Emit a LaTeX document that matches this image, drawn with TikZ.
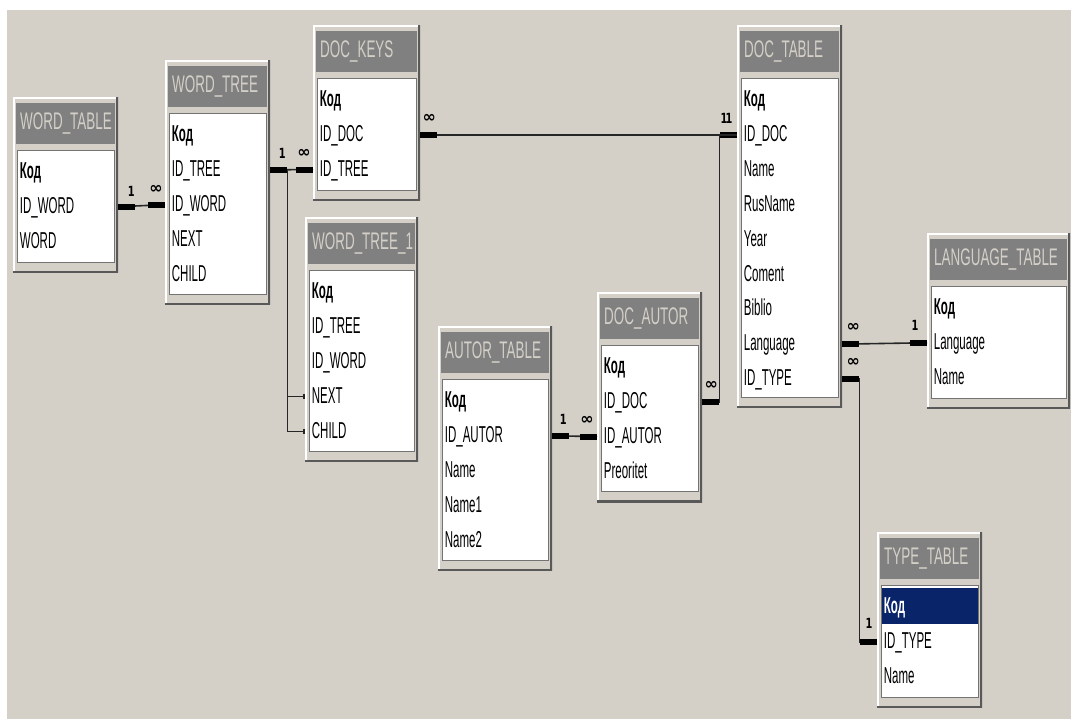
\documentclass[tikz,border=0pt]{standalone}
\usepackage{fontspec}
\usepackage{tikz}
\usetikzlibrary{arrows.meta, positioning, calc}
\newfontfamily\fldfont[FakeStretch=0.5]{Liberation Sans}
\newfontfamily\ttlfont[FakeStretch=0.56]{Liberation Sans}
\newfontfamily\symfont{DejaVu Sans}
\newfontfamily\cardfont[FakeStretch=0.7]{DejaVu Sans}
\definecolor{panel}{HTML}{D4D0C8}
\definecolor{ttlbar}{HTML}{808080}
\definecolor{selrow}{HTML}{0A246A}

\begin{document}
\begin{tikzpicture}[
      x=1pt, y=-1pt,
      tbl/.style = {
        rectangle, anchor=north west, fill=panel, inner sep=0pt,
        path picture={
          \draw[white, line width=3pt]
            (path picture bounding box.south west) |- (path picture bounding box.north east);
          \draw[black!65, line width=4pt]
            (path picture bounding box.south west) -| (path picture bounding box.north east);
        }
      },
      ttl/.style = {
        rectangle, fill=ttlbar, text=panel,
        minimum height=41pt, inner xsep=4pt, inner ysep=0pt, align=left,
        font=\ttlfont\fontsize{24}{24}\selectfont
      },
      body/.style = {rectangle, fill=white, draw=black!55, line width=1pt, inner sep=0pt},
      fld/.style = {
        inner sep=0pt, minimum height=34.5pt, text height=16.5pt, text depth=3pt,
        font=\fldfont\fontsize{23}{23}\selectfont
      },
      rel/.style = {line width=1.6pt, black!85},
      bar/.style = {line width=6pt, black},
      card/.style = {font=\cardfont\bfseries\fontsize{14}{14}\selectfont, inner sep=0pt},
      inf/.style = {font=\symfont\bfseries\fontsize{16}{16}\selectfont, inner sep=0pt},
    ]
    \useasboundingbox (0,0) rectangle (1071,719);
    \fill[white] (0,0) rectangle (1071,719);
    \fill[panel] (7,10) rectangle (1071,719);

    % WORD_TABLE
    \node[tbl, minimum width=105pt, minimum height=175.5pt] (wtab) at (13,97) {};
    \node[ttl, text width=91pt, below=6pt of wtab.north] (wtab-t) {WORD\_TABLE};
    \node[body, minimum width=97pt, minimum height=111.5pt, below=6pt of wtab-t] (wtab-b) {};
    \node[fld, anchor=north west] (wtab-kod) at ([shift={(3,4)}]wtab-b.north west) {\bfseries Код};
    \node[fld, below right=0pt and 0pt of wtab-kod.south west] (wtab-idword) {ID\_WORD};
    \node[fld, below right=0pt and 0pt of wtab-idword.south west] (wtab-word) {WORD};

    % WORD_TREE
    \node[tbl, minimum width=105pt, minimum height=244.5pt] (wtree) at (165,60) {};
    \node[ttl, text width=91pt, below=6pt of wtree.north] (wtree-t) {WORD\_TREE};
    \node[body, minimum width=97pt, minimum height=180.5pt, below=6pt of wtree-t] (wtree-b) {};
    \node[fld, anchor=north west] (wtree-kod) at ([shift={(3,4)}]wtree-b.north west) {\bfseries Код};
    \node[fld, below right=0pt and 0pt of wtree-kod.south west] (wtree-idtree) {ID\_TREE};
    \node[fld, below right=0pt and 0pt of wtree-idtree.south west] (wtree-idword) {ID\_WORD};
    \node[fld, below right=0pt and 0pt of wtree-idword.south west] (wtree-next) {NEXT};
    \node[fld, below right=0pt and 0pt of wtree-next.south west] (wtree-child) {CHILD};

    % DOC_KEYS
    \node[tbl, minimum width=107pt, minimum height=175.5pt] (dkeys) at (313,25) {};
    \node[ttl, text width=93pt, below=6pt of dkeys.north] (dkeys-t) {DOC\_KEYS};
    \node[body, minimum width=99pt, minimum height=111.5pt, below=6pt of dkeys-t] (dkeys-b) {};
    \node[fld, anchor=north west] (dkeys-kod) at ([shift={(3,4)}]dkeys-b.north west) {\bfseries Код};
    \node[fld, below right=0pt and 0pt of dkeys-kod.south west] (dkeys-iddoc) {ID\_DOC};
    \node[fld, below right=0pt and 0pt of dkeys-iddoc.south west] (dkeys-idtree) {ID\_TREE};

    % WORD_TREE_1
    \node[tbl, minimum width=113pt, minimum height=244.5pt] (wtree1) at (305,217) {};
    \node[ttl, text width=99pt, below=6pt of wtree1.north] (wt1-t) {WORD\_TREE\_1};
    \node[body, minimum width=105pt, minimum height=180.5pt, below=6pt of wt1-t] (wt1-b) {};
    \node[fld, anchor=north west] (wt1-kod) at ([shift={(3,4)}]wt1-b.north west) {\bfseries Код};
    \node[fld, below right=0pt and 0pt of wt1-kod.south west] (wt1-idtree) {ID\_TREE};
    \node[fld, below right=0pt and 0pt of wt1-idtree.south west] (wt1-idword) {ID\_WORD};
    \node[fld, below right=0pt and 0pt of wt1-idword.south west] (wt1-next) {NEXT};
    \node[fld, below right=0pt and 0pt of wt1-next.south west] (wt1-child) {CHILD};

    % AUTOR_TABLE
    \node[tbl, minimum width=114pt, minimum height=244.5pt] (autor) at (438,326) {};
    \node[ttl, text width=100pt, below=6pt of autor.north] (autor-t) {AUTOR\_TABLE};
    \node[body, minimum width=106pt, minimum height=180.5pt, below=6pt of autor-t] (autor-b) {};
    \node[fld, anchor=north west] (autor-kod) at ([shift={(3,4)}]autor-b.north west) {\bfseries Код};
    \node[fld, below right=0pt and 0pt of autor-kod.south west] (autor-idautor) {ID\_AUTOR};
    \node[fld, below right=0pt and 0pt of autor-idautor.south west] (autor-name) {Name};
    \node[fld, below right=0pt and 0pt of autor-name.south west] (autor-name1) {Name1};
    \node[fld, below right=0pt and 0pt of autor-name1.south west] (autor-name2) {Name2};

    % DOC_AUTOR
    \node[tbl, minimum width=105pt, minimum height=210pt] (dautor) at (597,292) {};
    \node[ttl, text width=91pt, below=6pt of dautor.north] (da-t) {DOC\_AUTOR};
    \node[body, minimum width=97pt, minimum height=146pt, below=6pt of da-t] (da-b) {};
    \node[fld, anchor=north west] (da-kod) at ([shift={(3,4)}]da-b.north west) {\bfseries Код};
    \node[fld, below right=0pt and 0pt of da-kod.south west] (da-iddoc) {ID\_DOC};
    \node[fld, below right=0pt and 0pt of da-iddoc.south west] (da-idautor) {ID\_AUTOR};
    \node[fld, below right=0pt and 0pt of da-idautor.south west] (da-preoritet) {Preoritet};

    % DOC_TABLE
    \node[tbl, minimum width=105pt, minimum height=382.5pt] (dtab) at (737,25) {};
    \node[ttl, text width=91pt, below=6pt of dtab.north] (dt-t) {DOC\_TABLE};
    \node[body, minimum width=97pt, minimum height=318.5pt, below=6pt of dt-t] (dt-b) {};
    \node[fld, anchor=north west] (dt-kod) at ([shift={(3,4)}]dt-b.north west) {\bfseries Код};
    \node[fld, below right=0pt and 0pt of dt-kod.south west] (dt-iddoc) {ID\_DOC};
    \node[fld, below right=0pt and 0pt of dt-iddoc.south west] (dt-name) {Name};
    \node[fld, below right=0pt and 0pt of dt-name.south west] (dt-rusname) {RusName};
    \node[fld, below right=0pt and 0pt of dt-rusname.south west] (dt-year) {Year};
    \node[fld, below right=0pt and 0pt of dt-year.south west] (dt-coment) {Coment};
    \node[fld, below right=0pt and 0pt of dt-coment.south west] (dt-biblio) {Biblio};
    \node[fld, below right=0pt and 0pt of dt-biblio.south west] (dt-language) {Language};
    \node[fld, below right=0pt and 0pt of dt-language.south west] (dt-idtype) {ID\_TYPE};

    % LANGUAGE_TABLE
    \node[tbl, minimum width=143pt, minimum height=175.5pt] (lang) at (927,233) {};
    \node[ttl, text width=129pt, below=6pt of lang.north] (lang-t) {LANGUAGE\_TABLE};
    \node[body, minimum width=135pt, minimum height=111.5pt, below=6pt of lang-t] (lang-b) {};
    \node[fld, anchor=north west] (lang-kod) at ([shift={(3,4)}]lang-b.north west) {\bfseries Код};
    \node[fld, below right=0pt and 0pt of lang-kod.south west] (lang-language) {Language};
    \node[fld, below right=0pt and 0pt of lang-language.south west] (lang-name) {Name};

    % TYPE_TABLE
    \node[tbl, minimum width=105pt, minimum height=175.5pt] (ttype) at (877,532) {};
    \node[ttl, text width=91pt, below=6pt of ttype.north] (tt-t) {TYPE\_TABLE};
    \node[body, minimum width=97pt, minimum height=111.5pt, below=6pt of tt-t] (tt-b) {};
    \fill[selrow] ([shift={(1,3)}]tt-b.north west) rectangle ([shift={(-1,38.5)}]tt-b.north east);
    \node[fld, anchor=north west, text=white] (tt-kod) at ([shift={(3,4)}]tt-b.north west) {\bfseries Код};
    \node[fld, below right=0pt and 0pt of tt-kod.south west] (tt-idtype) {ID\_TYPE};
    \node[fld, below right=0pt and 0pt of tt-idtype.south west] (tt-name) {Name};

    % relationships
    \draw[rel] (wtab-idword -| wtab.east) -- (wtree-idword -| wtree.west);
    \draw[bar] (wtab-idword -| wtab.east) -- ++(17,0);
    \draw[bar] (wtree-idword -| wtree.west) -- ++(-17,0);
    \node[card] (c-wtab) at ($(wtab-idword -| wtab.east)+(13,-15)$) {1};
    \node[inf] (c-wtree) at ($(wtree-idword -| wtree.west)+(-9,-15)$) {∞};

    \draw[rel] (wtree-idtree -| wtree.east) -- (dkeys-idtree -| dkeys.west);
    \draw[bar] (wtree-idtree -| wtree.east) -- ++(17,0);
    \draw[bar] (dkeys-idtree -| dkeys.west) -- ++(-17,0);
    \node[card] (c-wtree2) at ($(wtree-idtree -| wtree.east)+(12,-16)$) {1};
    \node[inf] (c-dkeys) at ($(dkeys-idtree -| dkeys.west)+(-9,-16)$) {∞};

    \coordinate (jn-tree) at ($(wtree-idtree -| wtree.east)+(17,0)$);
    \draw[rel, -{Bar[width=5pt]}] (jn-tree) |- (wt1-next -| wtree1.west);
    \draw[rel, -{Bar[width=5pt]}] (jn-tree) |- (wt1-child -| wtree1.west);

    \draw[rel] (dkeys-iddoc -| dkeys.east) -- (dt-iddoc -| dtab.west);
    \draw[bar] (dkeys-iddoc -| dkeys.east) -- ++(17,0);
    \draw[bar] (dt-iddoc -| dtab.west) -- ++(-17,0);
    \node[inf] (c-dkeys2) at ($(dkeys-iddoc -| dkeys.east)+(9,-16)$) {∞};
    \node[card] (c-dtab) at ($(dt-iddoc -| dtab.west)+(-8,-16)$) {1};

    \draw[rel] (da-iddoc -| dautor.east) -- ++(17,0) |- (dt-iddoc -| dtab.west);
    \draw[bar] (da-iddoc -| dautor.east) -- ++(17,0);
    \node[inf] (c-da) at ($(da-iddoc -| dautor.east)+(9,-16)$) {∞};
    \node[card] (c-dtab2) at ($(dt-iddoc -| dtab.west)+(-13,-16)$) {1};

    \draw[rel] (autor-idautor -| autor.east) -- (da-idautor -| dautor.west);
    \draw[bar] (autor-idautor -| autor.east) -- ++(17,0);
    \draw[bar] (da-idautor -| dautor.west) -- ++(-17,0);
    \node[card] (c-autor) at ($(autor-idautor -| autor.east)+(11,-16)$) {1};
    \node[inf] (c-da2) at ($(da-idautor -| dautor.west)+(-10,-16)$) {∞};

    \draw[rel] (dt-language -| dtab.east) -- (lang-language -| lang.west);
    \draw[bar] (dt-language -| dtab.east) -- ++(17,0);
    \draw[bar] (lang-language -| lang.west) -- ++(-17,0);
    \node[inf] (c-dtab3) at ($(dt-language -| dtab.east)+(11,-17)$) {∞};
    \node[card] (c-lang) at ($(lang-language -| lang.west)+(-12,-17)$) {1};

    \draw[rel] (dt-idtype -| dtab.east) -- ++(17,0) |- (tt-idtype -| ttype.west);
    \draw[bar] (dt-idtype -| dtab.east) -- ++(17,0);
    \draw[bar] (tt-idtype -| ttype.west) -- ++(-17,0);
    \node[inf] (c-dtab4) at ($(dt-idtype -| dtab.east)+(11,-17)$) {∞};
    \node[card] (c-tt) at ($(tt-idtype -| ttype.west)+(-8,-18)$) {1};
\end{tikzpicture}
\end{document}
